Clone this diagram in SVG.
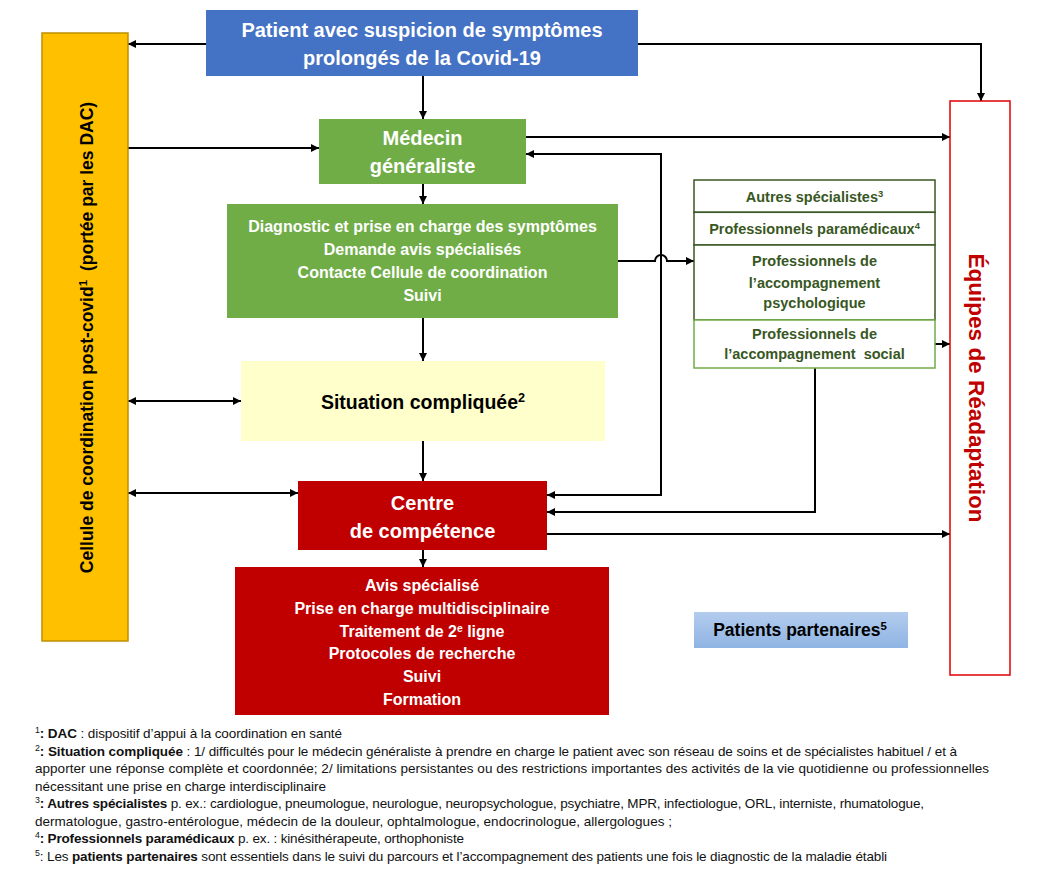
<svg xmlns="http://www.w3.org/2000/svg" width="1053" height="875" viewBox="0 0 1053 875">
<style>
text{font-family:"Liberation Sans",Arial,sans-serif}
.w{fill:#fff;font-weight:bold;text-anchor:middle}
.g{fill:#385723;font-weight:bold;text-anchor:middle;font-size:14.5px}
.fn{font-size:13.5px;fill:#111}
.b{font-weight:bold}
.c{fill:none;stroke:#000;stroke-width:2}
.sup{font-size:65%}
.pb{fill:#fff;stroke:#385723;stroke-width:1.5}
</style>
<defs>
<marker id="ah" viewBox="0 0 10 10" refX="10" refY="5" markerUnits="userSpaceOnUse" markerWidth="9" markerHeight="8" orient="auto-start-reverse">
<path d="M0,0 L10,5 L0,10 z" fill="#000"/>
</marker>
<linearGradient id="pg" x1="0" y1="0" x2="0" y2="1">
<stop offset="0" stop-color="#B3CCEE"/>
<stop offset="1" stop-color="#8FB4E3"/>
</linearGradient>
</defs>
<rect width="1053" height="875" fill="#fff"/>

<g id="connectors">
<path class="c" d="M206,44 H128" marker-end="url(#ah)"/>
<path class="c" d="M423,76 V119" marker-end="url(#ah)"/>
<path class="c" d="M638,44 H981 V101" marker-end="url(#ah)"/>
<path class="c" d="M128,148 H319" marker-end="url(#ah)"/>
<path class="c" d="M526,137 H950" marker-end="url(#ah)"/>
<path class="c" d="M547,495 H661 V154 H526" marker-start="url(#ah)" marker-end="url(#ah)"/>
<path class="c" d="M423,184 V204" marker-end="url(#ah)"/>
<path class="c" d="M618,261 H655 A6,6 0 0 1 667,261 H694" marker-end="url(#ah)"/>
<path class="c" d="M935,344 H950" marker-end="url(#ah)"/>
<path class="c" d="M423,318 V361" marker-end="url(#ah)"/>
<path class="c" d="M128,401 H241" marker-start="url(#ah)" marker-end="url(#ah)"/>
<path class="c" d="M423,441 V481" marker-end="url(#ah)"/>
<path class="c" d="M128,493 H298" marker-start="url(#ah)" marker-end="url(#ah)"/>
<path class="c" d="M815,368 V512 H547" marker-end="url(#ah)"/>
<path class="c" d="M547,534 H950" marker-end="url(#ah)"/>
<path class="c" d="M423,550 V567" marker-end="url(#ah)"/>
</g>

<g id="patient">
<rect x="206" y="10" width="432" height="66" fill="#4472C4"/>
<text class="w" x="422" y="37" font-size="20">Patient avec suspicion de symptômes</text>
<text class="w" x="422" y="65" font-size="20">prolongés de la Covid-19</text>
</g>

<g id="cellule">
<rect x="42" y="33" width="86" height="608" fill="#FFC000" stroke="#BF9000" stroke-width="1.5"/>
<text transform="translate(93,337.5) rotate(-90)" text-anchor="middle" font-weight="bold" font-size="17.5" fill="#000">Cellule de coordination post-covid<tspan class="sup" baseline-shift="super">1</tspan><tspan dx="9">(portée par les DAC)</tspan></text>
</g>

<g id="medecin">
<rect x="319" y="119" width="207" height="65" fill="#70AD47"/>
<text class="w" x="422.5" y="145" font-size="20">Médecin</text>
<text class="w" x="422.5" y="173" font-size="20">généraliste</text>
</g>

<g id="diagnostic">
<rect x="227" y="204" width="391" height="114" fill="#70AD47"/>
<text class="w" x="422.5" y="232" font-size="16">Diagnostic et prise en charge des symptômes</text>
<text class="w" x="422.5" y="255" font-size="16">Demande avis spécialisés</text>
<text class="w" x="422.5" y="278" font-size="16">Contacte Cellule de coordination</text>
<text class="w" x="422.5" y="301" font-size="16">Suivi</text>
</g>

<g id="situation">
<rect x="241" y="361" width="364" height="80" fill="#FFFFCC"/>
<text x="423" y="409" text-anchor="middle" font-weight="bold" font-size="19.5" fill="#000">Situation compliquée<tspan class="sup" baseline-shift="super">2</tspan></text>
</g>

<g id="centre">
<rect x="298" y="481" width="249" height="69" fill="#C00000"/>
<text class="w" x="422.5" y="510" font-size="20">Centre</text>
<text class="w" x="422.5" y="538" font-size="20">de compétence</text>
</g>

<g id="avis">
<rect x="235" y="567" width="374" height="148" fill="#C00000"/>
<text class="w" x="422" y="591" font-size="16">Avis spécialisé</text>
<text class="w" x="422" y="614" font-size="16">Prise en charge multidisciplinaire</text>
<text class="w" x="422" y="637" font-size="16">Traitement de 2<tspan class="sup" baseline-shift="super">e</tspan> ligne</text>
<text class="w" x="422" y="659" font-size="16">Protocoles de recherche</text>
<text class="w" x="422" y="682" font-size="16">Suivi</text>
<text class="w" x="422" y="705" font-size="16">Formation</text>
</g>

<g id="autres">
<rect class="pb" x="694" y="180" width="241" height="32.3"/>
<text class="g" x="814.5" y="201.5">Autres spécialistes<tspan class="sup" baseline-shift="super">3</tspan></text>
</g>
<g id="paramedicaux">
<rect class="pb" x="694" y="212.3" width="241" height="32.7"/>
<text class="g" x="814.5" y="234">Professionnels paramédicaux<tspan class="sup" baseline-shift="super">4</tspan></text>
</g>
<g id="psychologique">
<rect class="pb" x="694" y="245" width="241" height="75"/>
<text class="g" x="814.5" y="266">Professionnels de</text>
<text class="g" x="814.5" y="288">l’accompagnement</text>
<text class="g" x="814.5" y="308">psychologique</text>
</g>
<g id="social">
<rect x="694" y="320" width="241" height="48" fill="#fff" stroke="#70AD47" stroke-width="1.5"/>
<text class="g" x="814.5" y="339">Professionnels de</text>
<text class="g" x="814.5" y="359" xml:space="preserve">l’accompagnement  social</text>
</g>

<g id="equipes">
<rect x="950" y="101" width="60" height="574" fill="#fff" stroke="#E00000" stroke-width="1.5"/>
<text transform="translate(969,388) rotate(90)" text-anchor="middle" font-weight="bold" font-size="22.5" fill="#C00000">Équipes de Réadaptation</text>
</g>

<g id="patients-partenaires">
<rect x="694" y="612" width="214" height="36" fill="url(#pg)"/>
<text x="800" y="636" text-anchor="middle" font-weight="bold" font-size="17.5" fill="#000">Patients partenaires<tspan class="sup" baseline-shift="super">5</tspan></text>
</g>

<g id="footnotes">
<text class="fn" x="35" y="738" textLength="307"><tspan class="sup" baseline-shift="super">1</tspan><tspan class="b">: DAC</tspan> : dispositif d’appui à la coordination en santé</text>
<text class="fn" x="35" y="755.5" textLength="922"><tspan class="sup" baseline-shift="super">2</tspan><tspan class="b">: Situation compliquée</tspan> : 1/ difficultés pour le médecin généraliste à prendre en charge le patient avec son réseau de soins et de spécialistes habituel / et à</text>
<text class="fn" x="35" y="773" textLength="954">apporter une réponse complète et coordonnée; 2/ limitations persistantes ou des restrictions importantes des activités de la vie quotidienne ou professionnelles</text>
<text class="fn" x="35" y="790.5" textLength="291">nécessitant une prise en charge interdisciplinaire</text>
<text class="fn" x="35" y="808" textLength="889"><tspan class="sup" baseline-shift="super">3</tspan><tspan class="b">: Autres spécialistes</tspan> p. ex.: cardiologue, pneumologue, neurologue, neuropsychologue, psychiatre, MPR, infectiologue, ORL, interniste, rhumatologue,</text>
<text class="fn" x="35" y="825.5" textLength="637">dermatologue, gastro-entérologue, médecin de la douleur, ophtalmologue, endocrinologue, allergologues ;</text>
<text class="fn" x="35" y="843" textLength="429"><tspan class="sup" baseline-shift="super">4</tspan><tspan class="b">: Professionnels paramédicaux</tspan> p. ex. : kinésithérapeute, orthophoniste</text>
<text class="fn" x="35" y="860.5" textLength="852"><tspan class="sup" baseline-shift="super">5</tspan>: Les <tspan class="b">patients partenaires</tspan> sont essentiels dans le suivi du parcours et l’accompagnement des patients une fois le diagnostic de la maladie établi</text>
</g>
</svg>
